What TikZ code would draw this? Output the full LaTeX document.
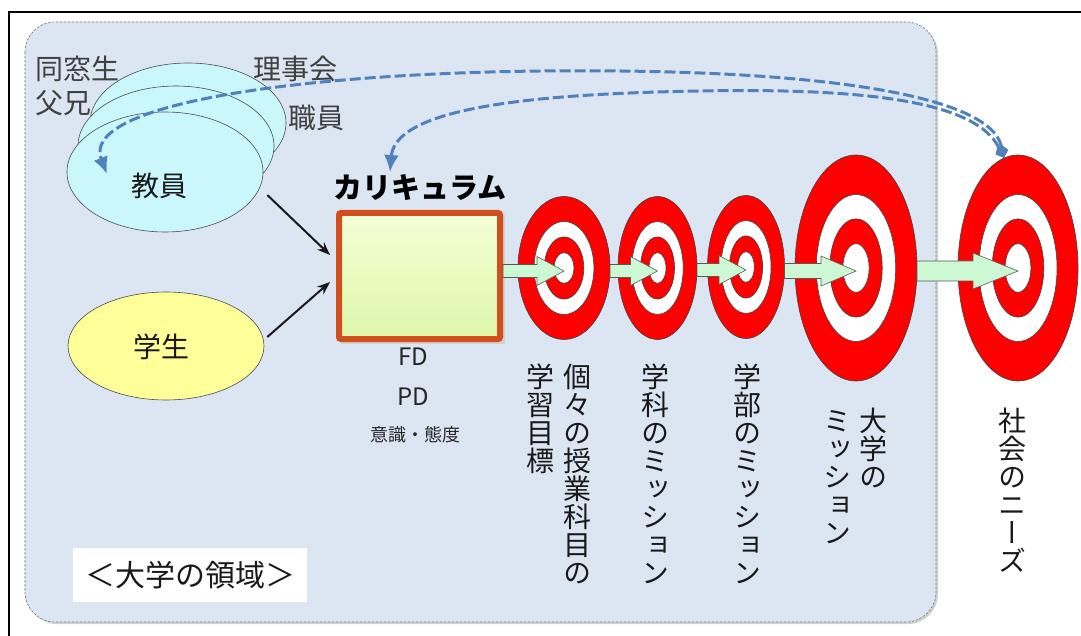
\documentclass[tikz,border=0pt]{standalone}
\usepackage{fontspec}
\setmainfont{Noto Sans CJK JP}
\newfontfamily\vjp[RawFeature=vertical]{Noto Sans CJK JP}
\usetikzlibrary{shapes.geometric,arrows.meta,calc,shadows}
\definecolor{bgblue}{HTML}{DCE6F2}
\definecolor{cyanfill}{HTML}{C9F7FB}
\definecolor{yelfill}{HTML}{FFFF99}
\definecolor{tred}{HTML}{FF0000}
\definecolor{gfill}{HTML}{CCF8D4}
\definecolor{boxorange}{HTML}{D24E1C}
\definecolor{dblue}{HTML}{4F81BD}
\definecolor{txtgray}{HTML}{404040}
\tikzset{
  ring/.style={ellipse, draw=black!75, line width=0.6pt, inner sep=0pt, outer sep=0pt},
  person/.style={ellipse, draw=black!70, line width=0.6pt, inner sep=0pt, minimum width=196pt, minimum height=120pt},
  garrow/.style={draw=black!65, line width=0.6pt, fill=gfill},
  sidetxt/.style={text=txtgray, font=\fontsize{28}{32}\selectfont, inner sep=0pt},
  maintxt/.style={text=black!90, font=\fontsize{28}{32}\selectfont, inner sep=0pt},
  vtxt/.style={text=black!90, font=\vjp\fontsize{28}{32}\selectfont, rotate=-90, anchor=west, inner sep=0pt},
  feedback/.style={draw=dblue, line width=3pt, dash pattern=on 11pt off 4pt},
  blackarrow/.style={draw=black!90, line width=2pt, -{Stealth[length=13pt,width=10pt]}}
}
\newcommand\mytarget[5]{%
  \node[ring, fill=tred, minimum width=2*#4, minimum height=2*#5] (#1) at (#2,#3) {};
  \node[ring, fill=white, minimum width=1.3*#4, minimum height=1.3*#5] (#1w) at (#2,#3) {};
  \node[ring, fill=tred, minimum width=0.86*#4, minimum height=0.87*#5] (#1r) at (#2,#3) {};
  \node[ring, fill=white, minimum width=0.43*#4, minimum height=0.43*#5] (#1c) at (#2,#3) {};
}
\newcommand\blockarrow[5]{%
  \draw[garrow] let \p1=(#1), \p2=(#2) in
    (\x1,\y2-3pt+#3) -- (\x2-#5,\y2-3pt+#3) -- (\x2-#5,\y2-3pt+#4) -- (\x2,\y2-3pt)
    -- (\x2-#5,\y2-3pt-#4) -- (\x2-#5,\y2-3pt-#3) -- (\x1,\y2-3pt-#3) -- cycle;
}
\begin{document}
\begin{tikzpicture}[x=1pt,y=-1pt]
\useasboundingbox[fill=white] (0,0) rectangle (1081,636);
% outer frame
\draw[line width=2.5pt, black] (1081,12) -- (9,12) -- (9,636);
% university area
\fill[black!18, rounded corners=30pt] (27,24) rectangle (938,624);
\path[fill=bgblue, draw=black!55, line width=0.6pt, dash pattern=on 2.5pt off 1.5pt, rounded corners=30pt] (25,22) rectangle (936,622);
% label box
\node[fill=white, minimum width=234pt, minimum height=54pt, inner sep=0pt] (areabox) at (190,575) {};
\node[maintxt, font=\fontsize{30}{34}\selectfont] (arealbl) at (areabox) {＜大学の領域＞};
% stakeholder ellipses
\node[person, fill=cyanfill] (e3) at (188,123) {};
\node[person, fill=cyanfill] (e2) at (176,146) {};
\node[person, fill=cyanfill] (e1) at (165,172) {};
\node[person, fill=yelfill, minimum height=108pt] (e4) at (166,346) {};
\node[maintxt] (kyoin) at (159,186) {教員};
\node[maintxt] (gakusei) at (161,347) {学生};
\node[sidetxt, anchor=west] (dousou) at (35,69) {同窓生};
\node[sidetxt, anchor=west] (fukei) at (35,103) {父兄};
\node[sidetxt] (rijikai) at (295,69) {理事会};
\node[sidetxt] (shokuin) at (316,118) {職員};
% curriculum box
\fill[black!18] (341,215) rectangle (505,344);
\shade[top color={rgb,255:red,244;green,254;blue,214}, bottom color={rgb,255:red,221;green,247;blue,170}] (339,213) rectangle (500,339);
\node[draw=boxorange, line width=6pt, minimum width=161pt, minimum height=126pt, inner sep=0pt, rounded corners=2pt] (box) at (419.5,276) {};
\node[maintxt, font=\bfseries\fontsize{29}{32}\selectfont, text=black] (curr) at (420,188) {カリキュラム};
\node[text=black!85, font=\fontsize{24}{28}\selectfont, inner sep=0pt] (fd) at (413,357) {FD};
\node[text=black!85, font=\fontsize{24}{28}\selectfont, inner sep=0pt] (pd) at (413,397) {PD};
\node[text=black!85, font=\fontsize{18}{22}\selectfont, inner sep=0pt] (ishiki) at (415,435) {意識・態度};
% black arrows
\coordinate (in1) at (330,255);
\coordinate (in2) at (330,282);
\draw[blackarrow] ($(e1.east)+(4,23)$) -- (in1);
\draw[blackarrow] ($(e4.east)+(3,-9)$) -- (in2);
% targets
\mytarget{t1}{564}{268}{46}{71.5}
\mytarget{t2}{657.5}{268}{39.5}{71.5}
\mytarget{t3}{746}{267}{38.5}{71.5}
\mytarget{t4}{856}{268}{61}{113}
\mytarget{t5}{1018}{268}{60}{113}
% green block arrows
\blockarrow{box.east}{t1.center}{6.5pt}{14.5pt}{27pt}
\blockarrow{t1.east}{t2.center}{6.5pt}{14.5pt}{27pt}
\blockarrow{t2.east}{t3.center}{6.5pt}{14.5pt}{27pt}
\blockarrow{t3.east}{t4.center}{7.5pt}{15pt}{35pt}
\blockarrow{t4.east}{t5.center}{10pt}{18pt}{45pt}
% vertical labels (anchor offset compensates the vertical font's baseline)
\node[vtxt] (goal1) at (588,363) {個々の授業科目の};
\node[vtxt] (goal2) at (551,363) {学習目標};
\node[vtxt] (gakka) at (666,363) {学科のミッション};
\node[vtxt] (gakubu) at (758,363) {学部のミッション};
\node[vtxt] (daigaku1) at (884,407) {大学の};
\node[vtxt] (daigaku2) at (848,407) {ミッション};
\node[vtxt] (shakai) at (1023,407) {社会のニーズ};
% feedback curves
\coordinate (dia) at (1004,158);
\coordinate (p1) at (107,174);
\coordinate (p2) at (390,172);
\draw[feedback, {Diamond[length=14pt,width=12pt]}-{Latex[length=17pt,width=15pt]}]
  (dia) .. controls (990,95) and (820,68) .. (540,71) .. controls (290,74) and (80,105) .. (p1);
\draw[feedback, {Diamond[length=14pt,width=12pt]}-{Latex[length=17pt,width=15pt]}]
  (dia) .. controls (975,100) and (860,88) .. (700,91) .. controls (520,94) and (395,110) .. (p2);
\end{tikzpicture}
\end{document}
